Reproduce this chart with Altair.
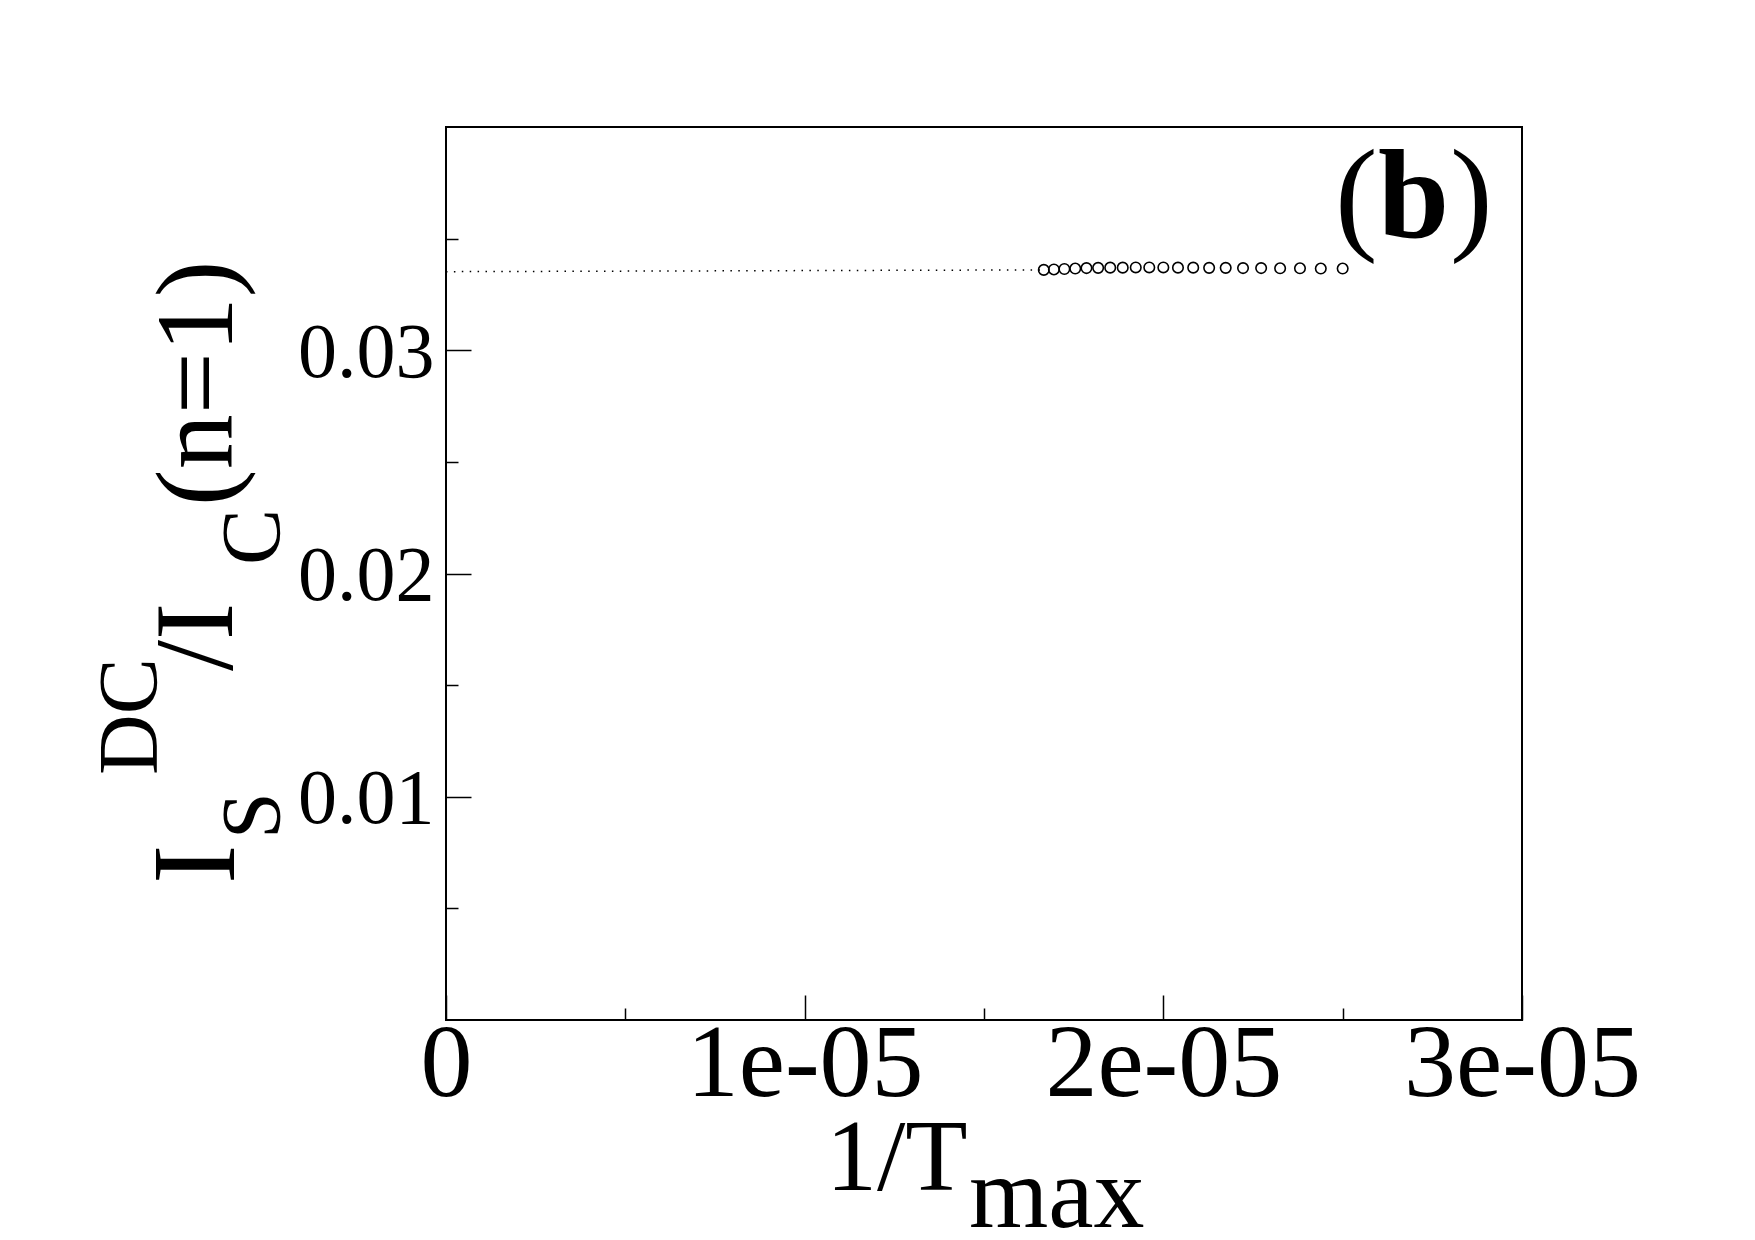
import altair as alt
import pandas as pd

FONT = "Liberation Serif"

# data: 1/T_max and I_s^DC / I_c(n=1)
inv_T = [1.6667e-5, 1.6949e-5, 1.7241e-5, 1.7544e-5, 1.7857e-5, 1.8182e-5, 1.8519e-5,
         1.8868e-5, 1.9231e-5, 1.9608e-5, 2.0000e-5, 2.0408e-5, 2.0833e-5, 2.1277e-5,
         2.1739e-5, 2.2222e-5, 2.2727e-5, 2.3256e-5, 2.3810e-5, 2.4390e-5, 2.5000e-5]
I_ratio = [0.03360, 0.03362, 0.03364, 0.03366, 0.03368, 0.03369, 0.03370,
           0.03370, 0.03371, 0.03371, 0.03371, 0.03370, 0.03370, 0.03369,
           0.03369, 0.03368, 0.03368, 0.03367, 0.03367, 0.03366, 0.03366]

# dotted extrapolation line
line_x = [0.0, 1.6667e-5]
line_y = [0.03352, 0.03360]

x_tick_values = [0.0, 1e-5, 2e-5, 3e-5]
x_tick_labels = ["0", "1e-05", "2e-05", "3e-05"]
x_all_ticks = [0.0, 5e-6, 1e-5, 1.5e-5, 2e-5, 2.5e-5, 3e-5]
y_tick_values = [0.01, 0.02, 0.03]
y_tick_labels = ["0.01", "0.02", "0.03"]
y_all_ticks = [0.005, 0.01, 0.015, 0.02, 0.025, 0.03, 0.035]

W, H = 1076, 893


def label_expr(values, labels):
    expr = "''"
    for v, l in reversed(list(zip(values, labels))):
        expr = f"abs(datum.value - {v}) < 1e-9 ? '{l}' : ({expr})"
    return expr


xs = alt.Scale(domain=[0, 3e-5], nice=False, zero=False)
ys = alt.Scale(domain=[0, 0.04], nice=False, zero=False)

pts_df = pd.DataFrame({"x": inv_T, "y": I_ratio})
line_df = pd.DataFrame({"x": line_x, "y": line_y})

points = alt.Chart(pts_df).mark_point(
    shape="circle", filled=False, size=110, strokeWidth=1.6, color="black", opacity=1
).encode(
    x=alt.X("x:Q", scale=xs, axis=alt.Axis(
        orient="bottom", values=x_tick_values, labelExpr=label_expr(x_tick_values, x_tick_labels),
        ticks=False, tickSize=0, domain=False, grid=False, title="",
        labelFont=FONT, labelFontSize=104, labelColor="black", labelPadding=-7,
        labelFlush=False, labelOverlap=False, labelBound=False, labelLimit=1000)),
    y=alt.Y("y:Q", scale=ys, axis=alt.Axis(
        orient="left", values=y_tick_values, labelExpr=label_expr(y_tick_values, y_tick_labels),
        ticks=False, tickSize=0, domain=False, grid=False, title="",
        labelFont=FONT, labelFontSize=78, labelColor="black", labelPadding=12,
        labelFlush=False, labelOverlap=False, labelBound=False, labelBaseline="middle",
        labelOffset=3, labelLimit=1000)),
)

line = alt.Chart(line_df).mark_line(
    strokeDash=[1.5, 6.4], strokeWidth=1.5, color="black"
).encode(
    x=alt.X("x:Q", scale=xs, axis=alt.Axis(
        orient="top", offset=-H, values=x_all_ticks, labels=False, domain=False, grid=False,
        title="", tickColor="black", tickWidth=1.5,
        tickSize={"condition": {"test": "abs(datum.value*1e5 - round(datum.value*1e5)) < 1e-6", "value": 25}, "value": 12})),
    y=alt.Y("y:Q", scale=ys, axis=alt.Axis(
        orient="right", offset=-W, values=y_all_ticks, labels=False, domain=False, grid=False,
        title="", tickColor="black", tickWidth=1.5,
        tickSize={"condition": {"test": "abs(datum.value*100 - round(datum.value*100)) < 1e-6", "value": 25}, "value": 12})),
)


def label(text, x, y, size, angle=0, weight="normal"):
    return alt.Chart(pd.DataFrame({"t": [text]})).mark_text(
        font=FONT, fontSize=size, angle=angle, align="left", baseline="alphabetic",
        fontWeight=weight, color="black"
    ).encode(x=alt.value(x), y=alt.value(y), text="t:N")


texts = [
    label("1/T", 380, 1063, 102),
    label("max", 523, 1100, 102),
    label("(", 889, 110, 128),
    label("b", 932, 110, 128, weight="bold"),
    label(")", 1004, 110, 128),
    label("I", -212, 757, 118, angle=270),
    label("S", -166, 712, 84, angle=270),
    label("DC", -289, 648, 84, angle=270),
    label("/I", -214, 544, 112, angle=270),
    label("C", -166, 438, 84, angle=270),
    label("(n=1)", -214, 379, 110, angle=270),
]

chart = alt.layer(line, points, *texts).properties(
    width=W, height=H,
    padding={"left": 446, "top": 127, "right": 233, "bottom": 220},
    autosize=alt.AutoSizeParams(type="none"),
    background="white",
).configure_view(stroke="black", strokeWidth=2)

chart.save("out.html", embed_options={"renderer": "svg", "actions": False})
